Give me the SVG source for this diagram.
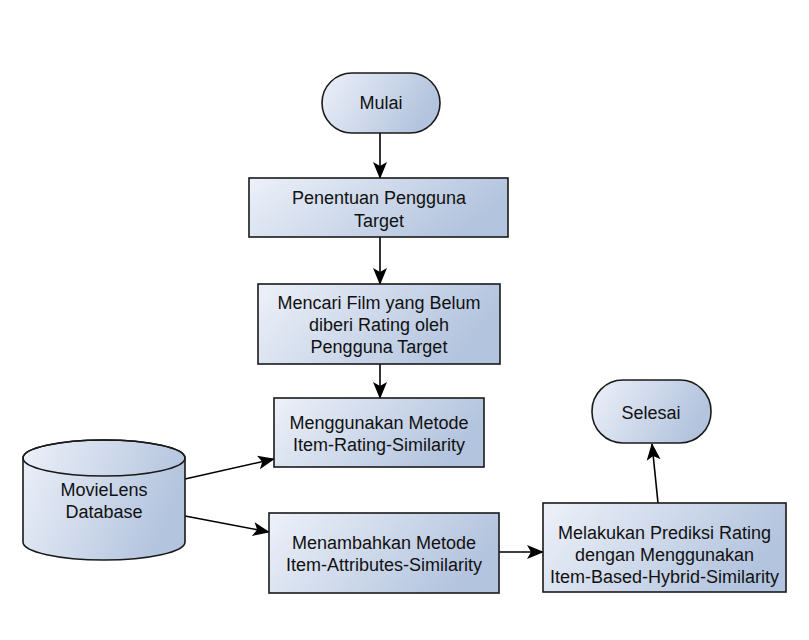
<svg xmlns="http://www.w3.org/2000/svg" width="809" height="640" viewBox="0 0 809 640">
<defs>
<linearGradient id="g" x1="0" y1="0" x2="1" y2="0.3">
<stop offset="0" stop-color="#edf1f9"/>
<stop offset="1" stop-color="#b3c4de"/>
</linearGradient>
<marker id="ah" markerUnits="userSpaceOnUse" markerWidth="20" markerHeight="16" refX="16" refY="8" orient="auto">
<path d="M0,1 L17,8 L0,15 L4,8 z" fill="#000"/>
</marker>
<style>
.s{fill:url(#g);stroke:#1a1a1a;stroke-width:1.6}
.t{font-family:"Liberation Sans",Arial,sans-serif;font-size:18px;fill:#111;text-anchor:middle}
.c{fill:none;stroke:#000;stroke-width:1.6;marker-end:url(#ah)}
</style>
</defs>
<rect width="809" height="640" fill="#fff"/>
<g id="connectors">
<line class="c" x1="380" y1="133" x2="380" y2="178"/>
<line class="c" x1="380" y1="237" x2="380" y2="284"/>
<line class="c" x1="380" y1="364" x2="380" y2="398"/>
<line class="c" x1="185" y1="479" x2="274" y2="459"/>
<line class="c" x1="185" y1="516" x2="269" y2="532"/>
<line class="c" x1="499" y1="552" x2="543" y2="552"/>
<line class="c" x1="658" y1="503" x2="652" y2="444"/>
</g>
<g id="mulai">
<rect class="s" x="322" y="73" width="118" height="60" rx="30"/>
<text class="t" x="381" y="109">Mulai</text>
</g>
<g id="penentuan">
<rect class="s" x="249" y="178" width="259" height="59"/>
<text class="t" x="379" y="204">Penentuan Pengguna</text>
<text class="t" x="379" y="227">Target</text>
</g>
<g id="mencari">
<rect class="s" x="258" y="284" width="242" height="80"/>
<text class="t" x="379" y="309">Mencari Film yang Belum</text>
<text class="t" x="379" y="331">diberi Rating oleh</text>
<text class="t" x="379" y="353">Pengguna Target</text>
</g>
<g id="menggunakan">
<rect class="s" x="274" y="398" width="210" height="69"/>
<text class="t" x="379" y="429">Menggunakan Metode</text>
<text class="t" x="379" y="451">Item-Rating-Similarity</text>
</g>
<g id="database">
<path class="s" d="M23,458 A81,18 0 0 1 185,458 L185,542 A81,18 0 0 1 23,542 Z"/>
<ellipse cx="104" cy="458" rx="81" ry="18" fill="none" stroke="#1a1a1a" stroke-width="1.6"/>
<text class="t" x="104" y="496">MovieLens</text>
<text class="t" x="104" y="518">Database</text>
</g>
<g id="menambahkan">
<rect class="s" x="269" y="513" width="230" height="80"/>
<text class="t" x="384" y="549">Menambahkan Metode</text>
<text class="t" x="384" y="571">Item-Attributes-Similarity</text>
</g>
<g id="melakukan">
<rect class="s" x="543" y="503" width="243" height="89"/>
<text class="t" x="664.5" y="539">Melakukan Prediksi Rating</text>
<text class="t" x="664.5" y="561">dengan Menggunakan</text>
<text class="t" x="664.5" y="583">Item-Based-Hybrid-Similarity</text>
</g>
<g id="selesai">
<rect class="s" x="592" y="380" width="119" height="63" rx="31"/>
<text class="t" x="651" y="419">Selesai</text>
</g>
</svg>
